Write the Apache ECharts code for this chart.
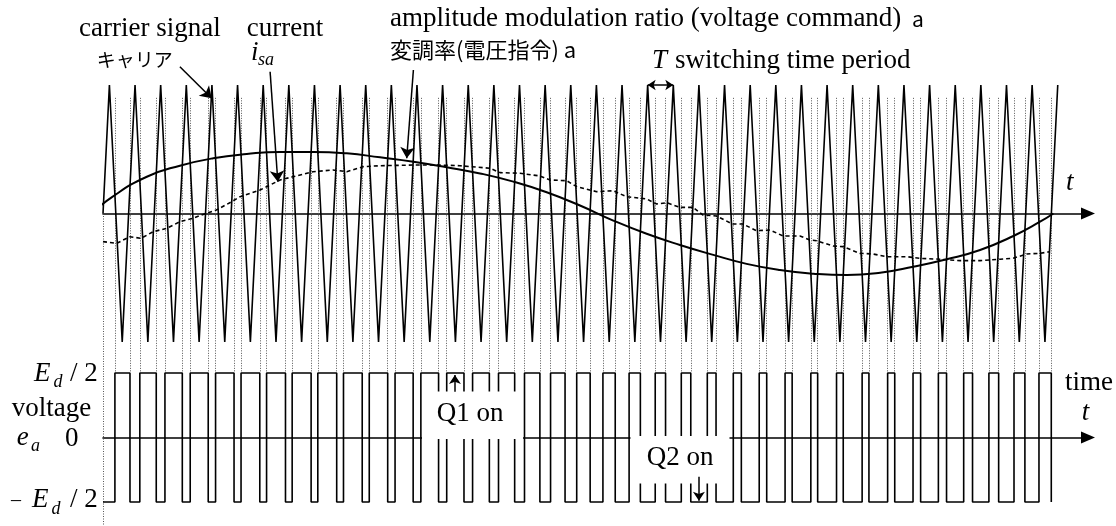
<!DOCTYPE html>
<html>
<head>
<meta charset="utf-8">
<script src="https://cdn.jsdelivr.net/npm/echarts@6/dist/echarts.min.js"></script>
<style>
  html, body { margin: 0; padding: 0; background: #fff; }
  #chart { width: 1116px; height: 526px; }
</style>
</head>
<body>
<div id="chart"></div>
<script>
  // time unit: one switching period T
  // carrier signal vertices (peaks +1, valleys -1), starts at 0 rising
  const carrierPeaks = [0.25, 1.25, 2.25, 3.25, 4.25, 5.25, 6.25, 7.25, 8.25, 9.25, 10.25, 11.25, 12.25, 13.25, 14.25, 15.25, 16.25, 17.25, 18.25, 19.25, 20.25, 21.25, 22.25, 23.25, 24.25, 25.25, 26.25, 27.25, 28.25, 29.25, 30.25, 31.25, 32.25, 33.25, 34.25, 35.25, 36.25, 37.25]
  const carrierValleys = [0.75, 1.75, 2.75, 3.75, 4.75, 5.75, 6.75, 7.75, 8.75, 9.75, 10.75, 11.75, 12.75, 13.75, 14.75, 15.75, 16.75, 17.75, 18.75, 19.75, 20.75, 21.75, 22.75, 23.75, 24.75, 25.75, 26.75, 27.75, 28.75, 29.75, 30.75, 31.75, 32.75, 33.75, 34.75, 35.75, 36.75]

  // amplitude modulation ratio (voltage command) a
  const modT = [-0.42, 0.35, 1.71, 3.0, 4.30, 5.61, 6.91, 8.20, 9.51, 10.81, 12.11, 13.41, 14.71, 16.01, 17.31, 18.61, 19.91, 21.21, 22.51, 23.81, 25.11, 26.41, 27.71, 29.02, 30.32, 31.61, 32.92, 34.22, 35.52, 36.56, 37.08]
  const modV = [0.0, 0.128, 0.286, 0.372, 0.430, 0.463, 0.479, 0.479, 0.468, 0.437, 0.403, 0.360, 0.312, 0.248, 0.165, 0.062, -0.055, -0.158, -0.245, -0.322, -0.392, -0.440, -0.468, -0.479, -0.461, -0.414, -0.356, -0.284, -0.175, -0.064, 0.0]

  // current i_sa (dashed)
  const curT = [0, 0.53, 1.05, 1.49, 1.95, 2.49, 3.0, 3.51, 4.04, 4.42, 5.02, 5.35, 6.13, 6.91, 7.41, 8.19, 8.97, 9.51, 10.14, 10.81, 12.1, 13.15, 13.93, 15.1, 15.49, 16.27, 17.05, 17.44, 18.09, 18.48, 19.26, 19.9, 20.43, 21.21, 21.6, 21.99, 22.51, 23.02, 23.41, 23.93, 24.56, 24.97, 25.49, 26.02, 26.53, 27.19, 27.58, 27.84, 28.48, 28.87, 29.53, 30.04, 30.58, 31.36, 31.87, 32.66, 33.44, 34.22, 35.0, 35.5, 36.04, 36.56, 36.95]
  const curV = [-0.219, -0.232, -0.181, -0.193, -0.142, -0.115, -0.064, -0.037, 0.002, 0.027, 0.092, 0.131, 0.183, 0.261, 0.286, 0.325, 0.339, 0.325, 0.364, 0.372, 0.377, 0.377, 0.372, 0.352, 0.318, 0.313, 0.292, 0.261, 0.255, 0.209, 0.170, 0.177, 0.131, 0.113, 0.074, 0.084, 0.048, 0.048, -0.012, -0.019, -0.082, -0.082, -0.134, -0.128, -0.175, -0.175, -0.206, -0.212, -0.253, -0.258, -0.310, -0.315, -0.336, -0.336, -0.349, -0.356, -0.367, -0.367, -0.356, -0.349, -0.315, -0.310, -0.297]

  const xMax = 38.43
  const dotTop = 0.9      // dotted switching lines start
  const dotBottom = -1.24 // ... and reach the top of the voltage plot

  const serif = '"Liberation Serif", "Times New Roman", serif'
  const jp = '"Noto Sans CJK JP", sans-serif'

  // build carrier polyline
  const carrier = [[0, 0]]
  carrierPeaks.forEach((p, i) => {
    carrier.push([p, 1])
    if (carrierValleys[i] !== undefined) carrier.push([carrierValleys[i], -1])
  })
  const modPts = modT.map((t, i) => [t, modV[i]])
  const curPts = curT.map((t, i) => [t, curV[i]])

  function modAt (t) {
    if (t <= modT[0]) return modV[0]
    for (let i = 1; i < modT.length; i++) {
      if (t <= modT[i]) {
        const r = (t - modT[i - 1]) / (modT[i] - modT[i - 1])
        return modV[i - 1] + r * (modV[i] - modV[i - 1])
      }
    }
    return modV[modV.length - 1]
  }

  // switching instants: where the carrier crosses the voltage command
  const edges = []
  for (let i = 1; i < carrier.length - 1; i++) {
    const a = carrier[i]
    const b = carrier[i + 1]
    const f = t => modAt(t) - (a[1] + (b[1] - a[1]) * (t - a[0]) / (b[0] - a[0]))
    let lo = a[0]
    let hi = b[0]
    const fLo = f(lo)
    if (fLo * f(hi) > 0) continue
    for (let k = 0; k < 40; k++) {
      const mid = (lo + hi) / 2
      if (f(mid) * fLo > 0) lo = mid
      else hi = mid
    }
    edges.push((lo + hi) / 2)
  }

  const pwm = [[0, -1]]
  let level = -1
  edges.forEach(t => {
    pwm.push([t, level])
    level = -level
    pwm.push([t, level])
  })

  const dotted = edges.map(t => ({ coords: [[t, dotTop], [t, dotBottom]] }))
  dotted.push({ coords: [[0, 0], [0, -2.45]] })

  function label (text, x, base, size, style) {
    return {
      type: 'text', x: x, y: base - size * 0.34, z: 100, silent: true,
      style: {
        text: text, font: (style || '') + ' ' + size + 'px ' + serif, fill: '#000',
        textAlign: 'left', textVerticalAlign: 'middle', align: 'left', verticalAlign: 'middle'
      }
    }
  }
  function jpLabel (text, x, center, size) {
    return {
      type: 'text', x: x, y: center - 1.5, z: 100, silent: true,
      style: {
        text: text, font: size + 'px ' + jp, fill: '#000',
        textAlign: 'left', textVerticalAlign: 'middle', align: 'left', verticalAlign: 'middle'
      }
    }
  }

  const axisX = (gridIndex) => ({
    gridIndex: gridIndex,
    type: 'value',
    min: 0,
    max: xMax,
    axisLine: {
      onZero: true,
      symbol: ['none', 'triangle'],
      symbolSize: [12, 14],
      lineStyle: { color: '#000', width: 1.6 }
    },
    axisTick: { show: false },
    axisLabel: { show: false },
    splitLine: { show: false }
  })
  const axisY = (gridIndex) => ({ gridIndex: gridIndex, type: 'value', min: -1, max: 1, show: false })

  const chart = echarts.init(document.getElementById('chart'))
  chart.setOption({
    animation: false,
    backgroundColor: '#fff',
    grid: [
      { left: 103, right: 28, top: 85, height: 257 },
      { left: 103, right: 28, top: 373, height: 129 }
    ],
    xAxis: [axisX(0), axisX(1)],
    yAxis: [axisY(0), axisY(1)],
    series: [
      {
        type: 'lines', coordinateSystem: 'cartesian2d', xAxisIndex: 0, yAxisIndex: 0,
        clip: false, silent: true, z: 1,
        lineStyle: { color: '#555', width: 1, type: [1, 1.5], opacity: 1 },
        data: dotted
      },
      {
        type: 'line', name: 'carrier', xAxisIndex: 0, yAxisIndex: 0,
        data: carrier, symbol: 'none', clip: false, silent: true,
        lineStyle: { color: '#000', width: 1.6 }
      },
      {
        type: 'line', name: 'current', xAxisIndex: 0, yAxisIndex: 0,
        data: curPts, symbol: 'none', clip: false, silent: true,
        lineStyle: { color: '#000', width: 1.6, type: [4, 3] }
      },
      {
        type: 'line', name: 'command', xAxisIndex: 0, yAxisIndex: 0,
        data: modPts, symbol: 'none', clip: false, silent: true, smooth: 0.5,
        lineStyle: { color: '#000', width: 2 }
      },
      {
        type: 'line', name: 'voltage', xAxisIndex: 1, yAxisIndex: 1,
        data: pwm, symbol: 'none', clip: false, silent: true,
        lineStyle: { color: '#000', width: 1.6 }
      },
      {
        // annotation arrows on the upper plot
        type: 'lines', coordinateSystem: 'cartesian2d', xAxisIndex: 0, yAxisIndex: 0,
        clip: false, silent: true, z: 10,
        symbol: ['none', 'arrow'], symbolSize: 11,
        lineStyle: { color: '#000', width: 1.5, opacity: 1 },
        data: [
          { coords: [[3.0, 1.142], [4.24, 0.897]] },
          { coords: [[6.52, 1.103], [6.82, 0.247]] },
          { coords: [[12.11, 1.117], [11.85, 0.43]] }
        ]
      },
      {
        // switching period T
        type: 'lines', coordinateSystem: 'cartesian2d', xAxisIndex: 0, yAxisIndex: 0,
        clip: false, silent: true, z: 10,
        symbol: ['arrow', 'arrow'], symbolSize: 8,
        lineStyle: { color: '#000', width: 1.5, opacity: 1 },
        data: [{ coords: [[21.25, 1], [22.25, 1]] }]
      },
      {
        // Q1 on / Q2 on arrows
        type: 'lines', coordinateSystem: 'cartesian2d', xAxisIndex: 1, yAxisIndex: 1,
        clip: false, silent: true, z: 60,
        symbol: ['none', 'arrow'], symbolSize: 9,
        lineStyle: { color: '#000', width: 1.5, opacity: 1 },
        data: [
          { coords: [[13.73, 0.71], [13.73, 0.97]] },
          { coords: [[23.25, -0.61], [23.25, -0.98]] }
        ]
      }
    ],
    graphic: [
      { type: 'rect', z: 50, silent: true, shape: { x: 422, y: 391.5, width: 101, height: 47.5 }, style: { fill: '#fff' } },
      { type: 'rect', z: 50, silent: true, shape: { x: 630.5, y: 436, width: 99, height: 47.5 }, style: { fill: '#fff' } },

      label('carrier signal', 79, 38.3, 27),
      jpLabel('キャリア', 96.7, 61.7, 19),
      label('current', 246.7, 38.3, 27),
      label('i', 251, 61.7, 27, 'italic'),
      label('sa', 258, 66.7, 18, 'italic'),
      label('amplitude modulation ratio (voltage command)', 390, 28.3, 27),
      jpLabel('a', 912, 21, 21),
      jpLabel('変調率(電圧指令) a', 390, 51, 22),
      label('T', 652, 70, 27, 'italic'),
      label('switching time period', 675, 70, 27),
      label('t', 1066, 191.7, 27, 'italic'),

      label('E', 34, 383.3, 27, 'italic'),
      label('d', 53.5, 388.5, 18, 'italic'),
      label('/ 2', 70, 383.3, 27),
      label('voltage', 11.7, 418.3, 27),
      label('e', 16.7, 446.7, 27, 'italic'),
      label('a', 31, 452.5, 18, 'italic'),
      label('0', 65, 448, 27),
      label('–', 11, 508, 20),
      label('E', 32, 509.3, 27, 'italic'),
      label('d', 51.5, 515, 18, 'italic'),
      label('/ 2', 70, 509.3, 27),
      label('Q1 on', 436.7, 423.3, 27),
      label('Q2 on', 646.7, 466.7, 27),
      label('time', 1065, 391.7, 27),
      label('t', 1081.7, 421.7, 27, 'italic')
    ]
  })
  window.addEventListener('resize', function () {
    chart.resize()
  })
</script>
</body>
</html>
